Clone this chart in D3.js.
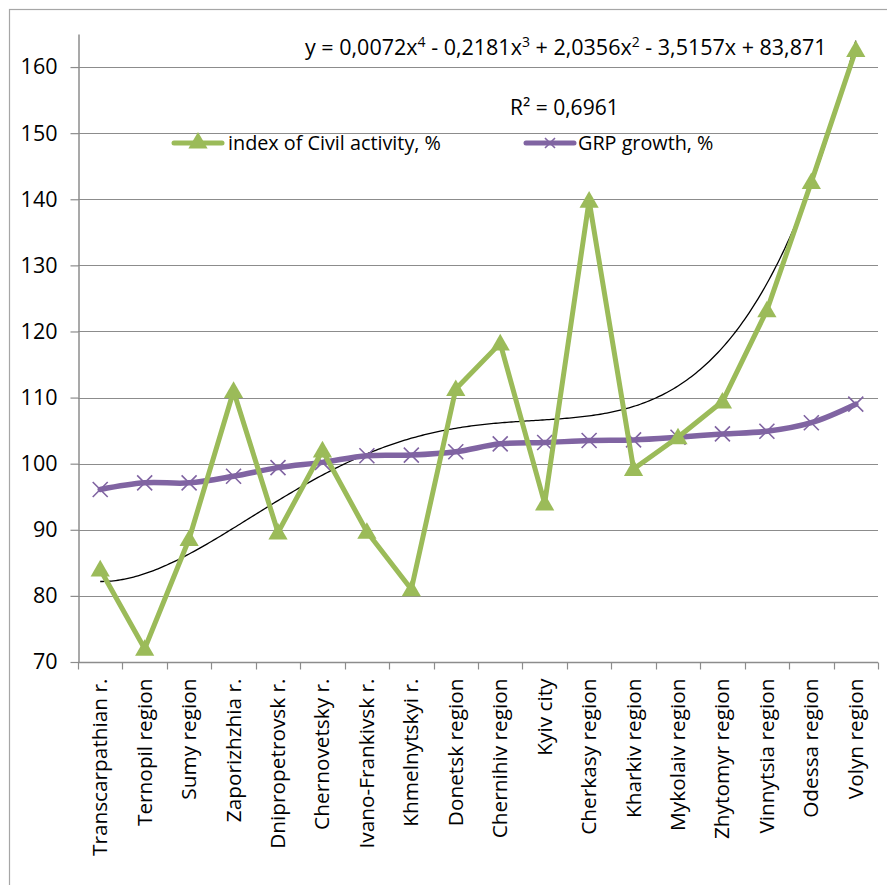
<!DOCTYPE html>
<html>
<head>
<meta charset="utf-8">
<script src="https://cdn.jsdelivr.net/npm/d3@7"></script>
<style>
  body { margin: 0; background: #fff; }
  svg text { font-family: "Open Sans", "Liberation Sans", sans-serif; fill: #000; }
</style>
</head>
<body>
<svg id="chart" width="887" height="885"></svg>
<script>
// Regions along the horizontal axis
const regions = [
  "Transcarpathian r.", "Ternopil region", "Sumy region", "Zaporizhzhia r.",
  "Dnipropetrovsk r.", "Chernovetsky r.", "Ivano-Frankivsk r.", "Khmelnytskyi r.",
  "Donetsk region", "Chernihiv region", "Kyiv city", "Cherkasy region",
  "Kharkiv region", "Mykolaiv region", "Zhytomyr region", "Vinnytsia region",
  "Odessa region", "Volyn region"
];

// Index of civil activity, %
const civilActivity = [84, 72, 88.6, 111, 89.6, 102, 89.7, 81, 111.3, 118.2, 94, 139.8,
  99.2, 104, 109.4, 123.2, 142.6, 162.6];

// GRP growth, %
const grpGrowth = [96.1, 97.1, 97.1, 98.1, 99.4, 100.2, 101.2, 101.3, 101.8, 103, 103.2,
  103.5, 103.6, 104, 104.5, 104.9, 106.2, 109];

// Polynomial trend (order 4) of civil activity: coefficients for x^4 .. x^0
const trendCoef = [0.0072, -0.2181, 2.0356, -3.5157, 83.871];
const yTicks = [70, 80, 90, 100, 110, 120, 130, 140, 150, 160];

(function () {
const svg = d3.select("#chart");
const plotL = 78, plotR = 878, plotT = 34, plotB = 662;
const axisGrey = "#8c8c8c";

// outer frame (only top and left edges fall inside the page)
svg.append("rect").attr("x", 9.5).attr("y", 9.5).attr("width", 900).attr("height", 900)
  .attr("fill", "none").attr("stroke", "#a6a6a6").attr("stroke-width", 1.2);

const x = d3.scaleBand().domain(regions).range([plotL, plotR]).padding(0);
const y = d3.scaleLinear().domain([70, 165]).range([plotB, plotT]);
const cx = d => x(d) + x.bandwidth() / 2;

// horizontal gridlines
svg.append("g").selectAll("line").data(yTicks.slice(1)).join("line")
  .attr("x1", plotL).attr("x2", plotR)
  .attr("y1", d => Math.round(y(d)) + 0.5).attr("y2", d => Math.round(y(d)) + 0.5)
  .attr("stroke", axisGrey).attr("stroke-width", 1.2);

// y axis
const yAxis = svg.append("g").attr("transform", `translate(${plotL + 0.5},0)`)
  .call(d3.axisLeft(y).tickValues(yTicks).tickSize(8).tickPadding(13).tickSizeOuter(0));
yAxis.attr("font-family", null).attr("font-size", null);
yAxis.select(".domain").attr("stroke", axisGrey).attr("stroke-width", 1.5);
yAxis.selectAll(".tick line").attr("stroke", axisGrey).attr("stroke-width", 1.2);
yAxis.selectAll(".tick text").style("font-size", "21.5px");

// x axis with ticks at category boundaries
const xg = svg.append("g").attr("transform", `translate(0,${plotB + 0.5})`);
xg.append("line").attr("x1", plotL).attr("x2", plotR).attr("stroke", axisGrey).attr("stroke-width", 1.5);
const bounds = regions.map(r => x(r)).concat([plotR]);
xg.selectAll("line.tk").data(bounds).join("line").attr("class", "tk")
  .attr("x1", d => Math.round(d) + 0.5).attr("x2", d => Math.round(d) + 0.5)
  .attr("y1", 0).attr("y2", 7).attr("stroke", axisGrey).attr("stroke-width", 1.2);
xg.selectAll("text").data(regions).join("text")
  .attr("transform", d => `translate(${cx(d) + 7},16) rotate(-90)`)
  .attr("text-anchor", "end")
  .style("font-size", "20.8px")
  .text(d => d);

// trend line drawn from the stated polynomial
const poly = t => trendCoef.reduce((acc, c) => acc * t + c, 0);
const trendX = d3.scaleLinear().domain([1, regions.length]).range([cx(regions[0]), cx(regions[regions.length - 1])]);
const trendPts = d3.range(1, regions.length + 0.001, 0.05).map(t => [trendX(t), y(poly(t))]);
svg.append("path").attr("d", d3.line()(trendPts))
  .attr("fill", "none").attr("stroke", "#000").attr("stroke-width", 1.3);

// GRP growth: smoothed purple line with x markers
svg.append("path")
  .attr("d", d3.line().x((d, i) => cx(regions[i])).y(d => y(d)).curve(d3.curveCatmullRom.alpha(0.5))(grpGrowth))
  .attr("fill", "none").attr("stroke", "#8064a2").attr("stroke-width", 5.5).attr("stroke-linecap", "round");
const xMark = (g, s) => g.append("path")
  .attr("d", `M${-s},${-s}L${s},${s}M${-s},${s}L${s},${-s}`)
  .attr("stroke", "#8064a2").attr("stroke-width", 1.6).attr("fill", "none");
grpGrowth.forEach((v, i) => {
  xMark(svg.append("g").attr("transform", `translate(${cx(regions[i])},${y(v)})`), 7.5);
});

// Civil activity: green polyline with triangle markers
svg.append("path")
  .attr("d", d3.line().x((d, i) => cx(regions[i])).y(d => y(d))(civilActivity))
  .attr("fill", "none").attr("stroke", "#9bbb59").attr("stroke-width", 5).attr("stroke-linejoin", "round");
const tri = d3.symbol().type(d3.symbolTriangle).size(160);
svg.append("g").selectAll("path").data(civilActivity).join("path")
  .attr("transform", (d, i) => `translate(${cx(regions[i])},${y(d) + 1.5})`)
  .attr("d", tri).attr("fill", "#9bbb59");

// trend equation and R²
const eq = svg.append("text").attr("x", 305).attr("y", 55).style("font-size", "21.5px");
const sup = (t, s) => { t.append("tspan").attr("dy", -8).style("font-size", "14px").text(s); };
eq.append("tspan").text("y = 0,0072x"); sup(eq, "4");
eq.append("tspan").attr("dy", 8).text(" - 0,2181x"); sup(eq, "3");
eq.append("tspan").attr("dy", 8).text(" + 2,0356x"); sup(eq, "2");
eq.append("tspan").attr("dy", 8).text(" - 3,5157x + 83,871");
svg.append("text").attr("x", 510).attr("y", 115).style("font-size", "21px")
  .text("R² = 0,6961");

// legend
const legendY = 143;
const lg1 = svg.append("g");
lg1.append("line").attr("x1", 174).attr("x2", 222).attr("y1", legendY).attr("y2", legendY)
  .attr("stroke", "#9bbb59").attr("stroke-width", 5).attr("stroke-linecap", "round");
lg1.append("path").attr("transform", `translate(198,${legendY})`).attr("d", tri).attr("fill", "#9bbb59");
lg1.append("text").attr("x", 228).attr("y", legendY + 6.5).style("font-size", "19.8px")
  .text("index of Civil activity, %");
const lg2 = svg.append("g");
lg2.append("line").attr("x1", 526).attr("x2", 574).attr("y1", legendY).attr("y2", legendY)
  .attr("stroke", "#8064a2").attr("stroke-width", 5).attr("stroke-linecap", "round");
xMark(lg2.append("g").attr("transform", `translate(550,${legendY})`), 5);
lg2.append("text").attr("x", 578).attr("y", legendY + 6.5).style("font-size", "19.8px")
  .text("GRP growth, %");
})();
</script>
</body>
</html>
